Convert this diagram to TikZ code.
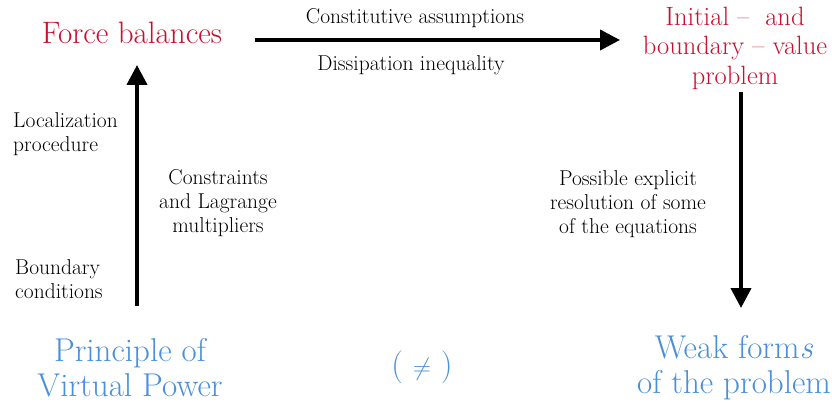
\documentclass[tikz,border=0pt]{standalone}
\usetikzlibrary{arrows.meta}
\definecolor{redt}{RGB}{200,16,46}
\definecolor{bluet}{RGB}{74,144,217}
\begin{document}
\begin{tikzpicture}[x=1pt,y=-1pt,
  big/.style={inner sep=0pt, align=center},
  redbox/.style={big, text=redt},
  bluebox/.style={big, text=bluet, font=\fontsize{33}{35}\selectfont},
  lab/.style={font=\fontsize{21.5}{24}\selectfont, inner sep=0pt},
  conn/.style={line width=4pt, -{Triangle[length=20pt,width=20pt]}}]
\useasboundingbox (0,0) rectangle (832,403);
\node[redbox, font=\fontsize{31}{33}\selectfont] (fb) at (132,33) {Force balances};
\node[redbox, font=\fontsize{26.5}{29.5}\selectfont] (ibv) at (735,48) {Initial --\ \ and\\boundary -- value\\problem};
\node[bluebox] (pvp) at (130,368) {Principle of\\Virtual Power};
\node[bluebox] (wf) at (734,368) {Weak form\textit{s}\\of the problem};
\node[bluebox] (neq) at (422,367) {( $\neq$ )};
\node[lab] (ca) at (415,18) {Constitutive assumptions};
\node[lab] (di) at (411,65) {Dissipation inequality};
\node[lab, align=left, anchor=west] (lp) at (13,134) {Localization\\procedure};
\node[lab, align=left, anchor=west] (bc) at (15,279) {Boundary\\conditions};
\node[lab, align=center] (cl) at (218,203) {Constraints\\and Lagrange\\multipliers};
\node[lab, align=center] (pe) at (628,204) {Possible explicit\\resolution of some\\of the equations};
\coordinate (h1) at (255,40);
\coordinate (h2) at (620,40);
\coordinate (v1) at (137,306);
\coordinate (v2) at (137,65);
\coordinate (w1) at (741,92);
\coordinate (w2) at (741,308);
\draw[conn] (h1) -- (h2);
\draw[conn] (v1) -- (v2);
\draw[conn] (w1) -- (w2);
\end{tikzpicture}
\end{document}
